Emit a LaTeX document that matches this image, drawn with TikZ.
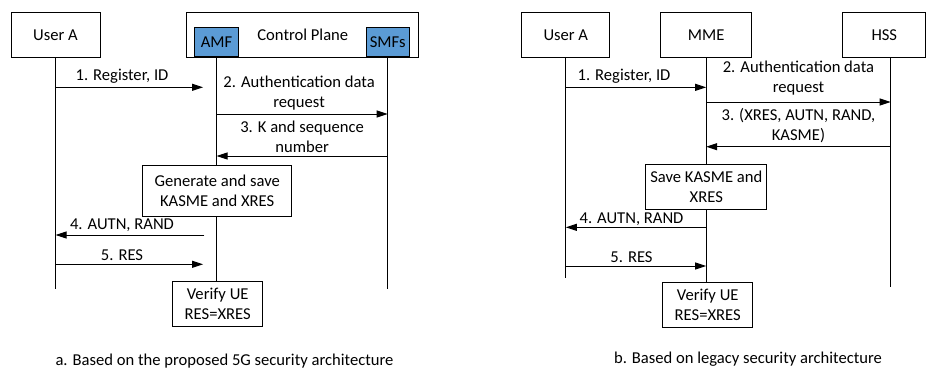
\documentclass[tikz,border=0pt]{standalone}
\usepackage{fontspec}
\setmainfont{Carlito}
\usetikzlibrary{arrows.meta,positioning}
\usepackage{xcolor}
\definecolor{nfblue}{RGB}{91,155,213}

\begin{document}
\begin{tikzpicture}[x=1pt, y=-1pt,
    every node/.style={font=\fontsize{16.6}{20}\selectfont},
    entity/.style={draw, line width=1pt, inner sep=0pt, align=center},
    life/.style={line width=1pt},
    msg/.style={line width=1pt, arrows={-Triangle[length=11pt, width=7pt]}}]
  \useasboundingbox (0,0) rectangle (928,370);

  % Left: proposed 5G architecture
  % Entity nodes
  \node(userA)[entity, minimum width=89pt, minimum height=44.6pt] at (55.5,35) {User A};
  \node(cplane)[entity, minimum width=232.3pt, minimum height=44.6pt] at (302.8,35) {Control Plane};
  \node(amf)[entity, fill=nfblue, minimum width=44.4pt, minimum height=29pt] at (216.5,42.2) {AMF};
  \node(smfs)[entity, fill=nfblue, minimum width=43.3pt, minimum height=29pt] at (387.7,42.2) {SMFs};
  % Action nodes
  \node(genkey)[entity, minimum width=149pt, minimum height=51pt] at (217.2,191.2) {Generate and save\\KASME and XRES};
  \node(verifyA)[entity, minimum width=90pt, minimum height=45.3pt] at (217.7,304.3) {Verify UE\\RES=XRES};
  % Lifelines
  \coordinate (endA) at (0,289.3);
  \draw[life] (userA.south) -- (userA.south |- endA);
  \draw[life] (smfs.south) -- (smfs.south |- endA);
  \draw[life] (amf.south) -- (amf.south |- genkey.north);
  \draw[life] (genkey.south -| amf) -- (verifyA.north -| amf);
  % Messages
  \coordinate (a1) at (0,87.3);
  \coordinate (a2) at (0,114);
  \coordinate (a3) at (0,156);
  \coordinate (a4) at (0,235);
  \coordinate (a5) at (0,264.3);
  \draw[msg, shorten >=13.4pt] (userA |- a1) -- node[above, xshift=-14pt] {1. Register, ID} (amf |- a1);
  \draw[msg] (amf |- a2) -- node[above, align=center, xshift=-3pt] {2. Authentication data\\request} (smfs |- a2);
  \draw[msg] (smfs |- a3) -- node[above, align=center] {3. K and sequence\\number} (amf |- a3);
  \draw[msg, shorten <=12.2pt] (amf |- a4) -- node[above, xshift=-14pt] {4. AUTN, RAND} (userA |- a4);
  \draw[msg, shorten >=13.4pt] (userA |- a5) -- node[above, xshift=-14pt] {5. RES} (amf |- a5);
  \node(captionA) at (224.5,361) {a. Based on the proposed 5G security architecture};

  % Right: legacy architecture
  % Entity nodes
  \node(userB)[entity, minimum width=88.3pt, minimum height=44.6pt] at (565.8,35) {User A};
  \node(mme)[entity, minimum width=91pt, minimum height=44.6pt] at (706.2,35) {MME};
  \node(hss)[entity, minimum width=83.3pt, minimum height=44.6pt] at (884.3,35) {HSS};
  % Action nodes
  \node(savekey)[entity, minimum width=120.7pt, minimum height=45pt] at (706.3,186.8) {Save KASME and\\XRES};
  \node(verifyB)[entity, minimum width=90pt, minimum height=45pt] at (707.7,304.5) {Verify UE\\RES=XRES};
  % Lifelines
  \coordinate (hssline) at ([xshift=6.4pt]hss.south);
  \coordinate (endB) at (0,278.3);
  \coordinate (endH) at (0,287.3);
  \draw[life] (userB.south) -- (userB.south |- endB);
  \draw[life] (hssline) -- (hssline |- endH);
  \draw[life] (mme.south) -- (mme.south |- savekey.north);
  \draw[life] (savekey.south -| mme) -- (verifyB.north -| mme);
  % Messages
  \coordinate (b1) at (0,87.3);
  \coordinate (b2) at (0,102);
  \coordinate (b3) at (0,146.7);
  \coordinate (b4) at (0,227.3);
  \coordinate (b5) at (0,266);
  \draw[msg] (userB |- b1) -- node[above, xshift=-12pt] {1. Register, ID} (mme |- b1);
  \draw[msg] (mme |- b2) -- node[above, align=center, yshift=3pt] {2. Authentication data\\request} (hssline |- b2);
  \draw[msg] (hssline |- b3) -- node[above, align=center] {3. (XRES, AUTN, RAND,\\KASME)} (mme |- b3);
  \draw[msg] (mme |- b4) -- node[above, xshift=-4.5pt, yshift=-2pt] {4. AUTN, RAND} (userB |- b4);
  \draw[msg] (userB |- b5) -- node[above, xshift=-4.5pt] {5. RES} (mme |- b5);
  \node(captionB) at (748,359) {b. Based on legacy security architecture};
\end{tikzpicture}
\end{document}
